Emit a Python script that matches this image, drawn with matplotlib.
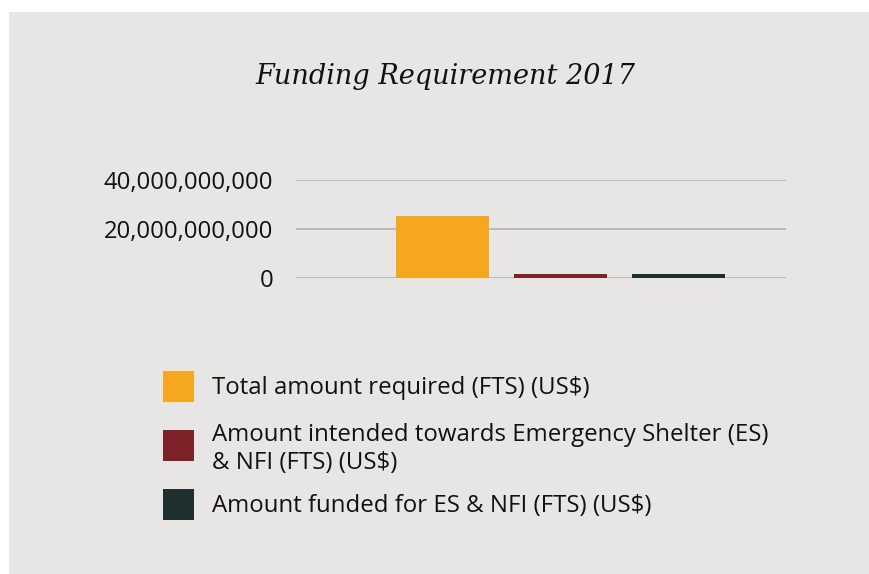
import matplotlib
matplotlib.use("Agg")
import matplotlib.pyplot as plt
from matplotlib.patches import Rectangle
from matplotlib.ticker import FuncFormatter

categories = ["Total amount required (FTS) (US$)",
              "Amount intended towards Emergency Shelter (ES)\n& NFI (FTS) (US$)",
              "Amount funded for ES & NFI (FTS) (US$)"]
values = [25_400_000_000, 1_300_000_000, 1_250_000_000]
colors = ["#F5A81F", "#7C2228", "#1D302D"]
yticks = [0, 20_000_000_000, 40_000_000_000]
title = "Funding Requirement 2017"

W, H = 870, 574
bg = "#E7E6E4"
fig = plt.figure(figsize=(W / 100, H / 100), dpi=100, facecolor="white")
fig.add_artist(Rectangle((9 / W, 0), 1, 1 - 12 / H, transform=fig.transFigure,
                         facecolor=bg, edgecolor="none", zorder=-10))

ax = fig.add_axes([296 / W, 1 - 277.5 / H, 490 / W, 97.5 / H])
ax.set_facecolor("none")
x = list(range(len(values)))
ax.bar(x, values, width=0.79, color=colors, zorder=3)
ax.set_xlim(-1.24, 2.91)
ax.set_ylim(0, 40_000_000_000)
ax.set_yticks(yticks)
ax.yaxis.set_major_formatter(FuncFormatter(lambda v, p: f"{int(v):,}"))
ax.set_xticks([])
for s in ax.spines.values():
    s.set_visible(False)
ax.grid(axis="y", color="#B0AFAD", linewidth=1.1, zorder=0)
ax.tick_params(axis="y", length=0, pad=16.5, labelsize=17.2, labelcolor="#111111")
for lab in ax.get_yticklabels():
    lab.set_fontfamily("Open Sans")

fig.text(445 / W, 1 - 76 / H, title, ha="center", va="center",
         fontfamily="DejaVu Serif", fontstyle="italic", fontsize=19.5, color="#111111")

sq = 31
rows_y = [386.5, 445.5, 504.5]
text_off = [1.5, 3.5, 1.5]
for cy, off, c, lab in zip(rows_y, text_off, colors, categories):
    fig.add_artist(Rectangle((163 / W, 1 - (cy + sq / 2) / H), sq / W, sq / H,
                             transform=fig.transFigure, facecolor=c, edgecolor="none"))
    fig.text(212 / W, 1 - (cy + off) / H, lab, ha="left", va="center",
             fontfamily="Open Sans", fontsize=17.3, color="#111111", linespacing=1.2)

fig.savefig("out.png", dpi=100, facecolor="white")
